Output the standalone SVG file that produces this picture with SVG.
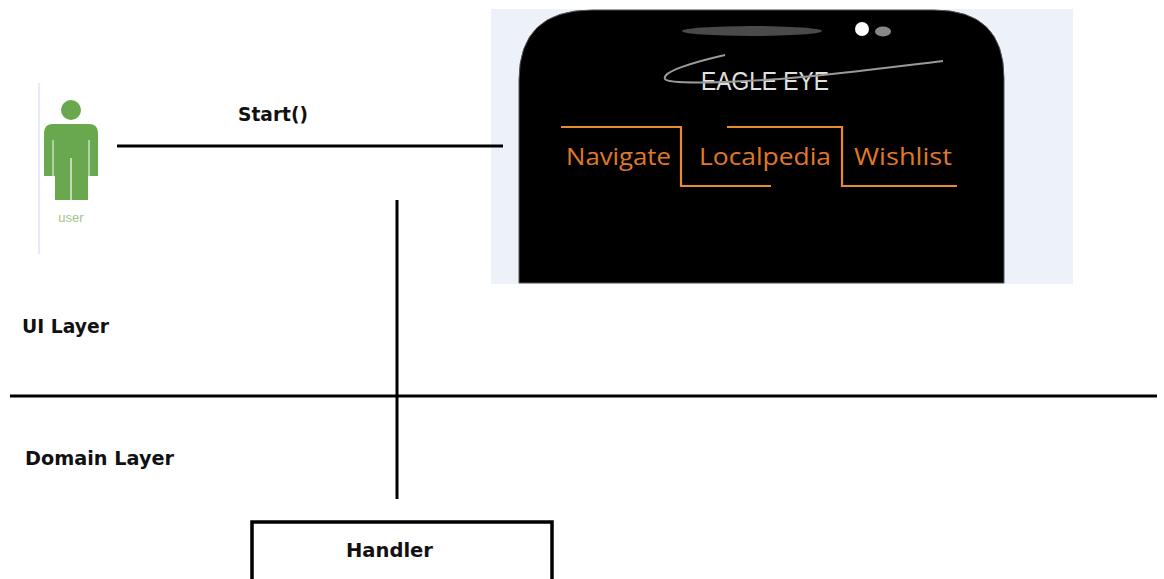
<svg xmlns="http://www.w3.org/2000/svg" width="1164" height="579" viewBox="0 0 1164 579">
  <style>
    .lbl { font-family: "DejaVu Sans", Verdana, sans-serif; font-weight: bold; font-size: 19px; fill: #111; }
    .tab { font-family: "Open Sans", "Noto Sans", sans-serif; font-size: 24px; fill: #e0782a; }
    .wire { stroke: #000; stroke-width: 3; fill: none; }
    .tabline { stroke: #e88a30; stroke-width: 2.2; fill: none; }
    .actor { fill: #6aa84f; }
  </style>
  <rect width="1164" height="579" fill="#fff"/>

  <!-- user actor -->
  <g id="user">
    <line x1="39" y1="83" x2="39" y2="254" stroke="#e6ecf5" stroke-width="2"/>
    <circle class="actor" cx="71" cy="110" r="10"/>
    <path class="actor" d="M44 133 Q44 124 53 124 L89 124 Q98 124 98 133 L98 176 L88 176 L88 200 L55 200 L55 176 L44 176 Z"/>
    <line x1="53" y1="140" x2="53" y2="176" stroke="#fff" stroke-width="1.2" opacity="0.8"/>
    <line x1="89" y1="140" x2="89" y2="176" stroke="#fff" stroke-width="1.2" opacity="0.8"/>
    <line x1="71" y1="158" x2="71" y2="200" stroke="#fff" stroke-width="1.5" opacity="0.8"/>
    <text x="71" y="222" text-anchor="middle" font-family="'Liberation Sans', Arial, sans-serif" font-size="13" fill="#a3c28f">user</text>
  </g>

  <!-- phone screen mock -->
  <g id="phone">
    <rect x="491" y="9" width="582" height="275" fill="#edf2fa"/>
    <path d="M519 283 L519 80 Q519 10 592 10 L934 10 Q1004 10 1004 78 L1004 283 Z" fill="#000" stroke="#555" stroke-width="1"/>
    <ellipse cx="752" cy="31" rx="70" ry="5" fill="#4a4a4a"/>
    <circle cx="862" cy="29" r="7" fill="#fff"/>
    <ellipse cx="883" cy="31.5" rx="8" ry="5" fill="#888"/>
    <text x="765" y="90" text-anchor="middle" font-family="'Liberation Sans', Arial, sans-serif" font-size="25" fill="#e0e0e0" textLength="128" lengthAdjust="spacingAndGlyphs">EAGLE EYE</text>
    <path d="M725 55 C690 63 662 72 665 79 C668 84 720 83 780 79 C850 73 900 66 943 61" stroke="#9a9a9a" stroke-width="2" fill="none"/>
    <polyline class="tabline" points="561,127 681,127 681,186 771,186"/>
    <polyline class="tabline" points="727,127 842,127 842,186 957,186"/>
    <text class="tab" x="566" y="165" textLength="105" lengthAdjust="spacingAndGlyphs">Navigate</text>
    <text class="tab" x="699" y="165" textLength="132" lengthAdjust="spacingAndGlyphs">Localpedia</text>
    <text class="tab" x="854" y="165" textLength="98" lengthAdjust="spacingAndGlyphs">Wishlist</text>
  </g>

  <!-- layer labels -->
  <g id="ui-layer">
    <text class="lbl" x="22" y="333" textLength="87" lengthAdjust="spacingAndGlyphs">UI Layer</text>
  </g>
  <g id="domain-layer">
    <text class="lbl" x="25" y="465" textLength="149" lengthAdjust="spacingAndGlyphs">Domain Layer</text>
  </g>

  <!-- handler -->
  <g id="handler">
    <rect x="252" y="522" width="300" height="80" fill="#fff" stroke="#000" stroke-width="3.5"/>
    <text class="lbl" x="346" y="557" textLength="87" lengthAdjust="spacingAndGlyphs">Handler</text>
  </g>

  <!-- connectors -->
  <g id="connectors">
    <line class="wire" x1="117" y1="146" x2="503" y2="146"/>
    <text class="lbl" x="238" y="121" textLength="70" lengthAdjust="spacingAndGlyphs">Start()</text>
    <line class="wire" x1="10" y1="396" x2="1157" y2="396"/>
    <line class="wire" x1="397" y1="200" x2="397" y2="499"/>
  </g>
</svg>
